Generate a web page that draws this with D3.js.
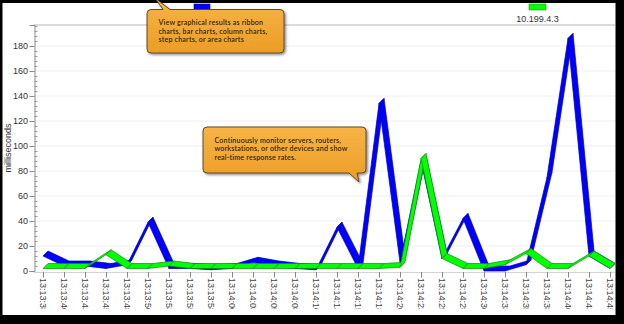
<!DOCTYPE html>
<html>
<head>
<meta charset="utf-8">
<script src="https://cdn.jsdelivr.net/npm/d3@7/dist/d3.min.js"></script>
<style>
  html, body { margin: 0; padding: 0; background: #000; }
  svg { display: block; }
  text { font-family: "Liberation Sans", Arial, sans-serif; }
</style>
</head>
<body>
<svg id="chart" width="624" height="324"></svg>
<script>
// Sample times (x categories)
const times = [
  "13:13:38", "13:13:40", "13:13:43", "13:13:45", "13:13:48", "13:13:50", "13:13:53",
  "13:13:55", "13:13:58", "13:14:00", "13:14:03", "13:14:05", "13:14:08", "13:14:10",
  "13:14:13", "13:14:15", "13:14:18", "13:14:20", "13:14:23", "13:14:25", "13:14:28",
  "13:14:30", "13:14:33", "13:14:35", "13:14:38", "13:14:40", "13:14:43", "13:14:45"
];

// Response times in milliseconds
const hostA = [12, 4, 4, 2, 5, 39, 2, 2, 1, 2, 7, 4, 2, 1, 35, 2, 134, 7, 88, 10, 42, 0, 0, 5, 75, 186, 12, 2];
const hostB = [2, 2, 2, 13, 2, 2, 4, 2, 2, 2, 2, 2, 2, 2, 2, 2, 2, 3, 90, 10, 2, 2, 5, 14, 2, 2, 12, 2];

const hostBName = "10.199.4.3";

const yMajorTicks = [0, 20, 40, 60, 80, 100, 120, 140, 160, 180];

const noteTop = ["View graphical results as ribbon", "charts, bar charts, column charts,", "step charts, or area charts"];
const noteMid = ["Continuously monitor servers, routers,", "workstations, or other devices and show", "real-time response rates."];

const svg = d3.select("#chart");

// Frame
svg.append("rect").attr("x", 0).attr("y", 0).attr("width", 624).attr("height", 324).attr("fill", "#000");
svg.append("rect").attr("x", 2.5).attr("y", 3).attr("width", 613).attr("height", 312).attr("fill", "#fff");

const x = d3.scalePoint().domain(times).range([43, 610]);
const y = d3.scaleLinear().domain([0, 196.8]).range([271, 25]);

const defs = svg.append("defs");
defs.append("clipPath").attr("id", "labelClip")
  .append("rect").attr("x", 0).attr("y", 272).attr("width", 624).attr("height", 37);
const grad = defs.append("linearGradient").attr("id", "noteFill").attr("x1", 0).attr("y1", 0).attr("x2", 0).attr("y2", 1);
grad.append("stop").attr("offset", "0%").attr("stop-color", "#f7b446");
grad.append("stop").attr("offset", "100%").attr("stop-color", "#ec9d25");
const shadow = defs.append("filter").attr("id", "noteShadow").attr("x", "-10%").attr("y", "-10%").attr("width", "130%").attr("height", "140%");
shadow.append("feDropShadow").attr("dx", 1.5).attr("dy", 1.5).attr("stdDeviation", 1.2).attr("flood-color", "#000").attr("flood-opacity", 0.45);

// Gridlines
svg.append("g").selectAll("line").data(yMajorTicks.filter(d => d > 0)).join("line")
  .attr("x1", 35).attr("x2", 615)
  .attr("y1", d => y(d)).attr("y2", d => y(d))
  .attr("stroke", "#efefef").attr("stroke-width", 1);

// Plot top border
svg.append("line").attr("x1", 33).attr("x2", 615).attr("y1", 25).attr("y2", 25)
  .attr("stroke", "#b8b8b8").attr("stroke-width", 1.2);

// Y axis
const yAxis = svg.append("g").attr("transform", "translate(34.5,0)")
  .call(d3.axisLeft(y).tickValues(yMajorTicks).tickSize(5).tickPadding(1.5));
yAxis.select(".domain").attr("stroke", "#8a8a8a");
yAxis.selectAll(".tick line").attr("stroke", "#8a8a8a");
yAxis.selectAll(".tick text").attr("fill", "#333").style("font-size", "9px");

const minor = d3.range(0, 197, 4).filter(v => v % 20 !== 0);
svg.append("g").selectAll("line").data(minor).join("line")
  .attr("x1", 34.5).attr("x2", 37.5)
  .attr("y1", d => Math.round(y(d)) + 0.5).attr("y2", d => Math.round(y(d)) + 0.5)
  .attr("stroke", "#9a9a9a").attr("stroke-width", 1);

svg.append("text")
  .attr("transform", "translate(11,148) rotate(-90)")
  .attr("text-anchor", "middle")
  .attr("fill", "#333").style("font-size", "9px")
  .text("milliseconds");

// X axis
const xAxis = svg.append("g").attr("transform", "translate(0,271.5)")
  .call(d3.axisBottom(x).tickSize(6).tickSizeOuter(0));
xAxis.select(".domain").attr("stroke", "#a8a8a8").attr("stroke-width", 2).attr("d", "M34,0H615");
xAxis.selectAll(".tick line").attr("stroke", "#888");
xAxis.selectAll(".tick text")
  .attr("y", 0).attr("dy", "0.35em")
  .attr("transform", "translate(0,6.5) rotate(90)")
  .attr("text-anchor", "start")
  .attr("fill", "#444").style("font-size", "9px");
// Clip the rotated time labels at the bottom edge of the label band
const labelLayer = svg.append("g").attr("clip-path", "url(#labelClip)");
labelLayer.node().appendChild(xAxis.node());

// Ribbon series: each segment is a quad between the front line and a back line offset up-right
const depthX = 5, depthY = 5;
function drawRibbon(values, fill, edge) {
  const pts = values.map((v, i) => [x(times[i]), y(v)]);
  const segs = d3.pairs(pts);
  svg.append("g").selectAll("path").data(segs).join("path")
    .attr("d", ([a, b]) => {
      const p = d3.path();
      p.moveTo(a[0], a[1]);
      p.lineTo(b[0], b[1]);
      p.lineTo(b[0] + depthX, b[1] - depthY);
      p.lineTo(a[0] + depthX, a[1] - depthY);
      p.closePath();
      return p.toString();
    })
    .attr("fill", fill)
    .attr("stroke", edge)
    .attr("stroke-width", 0.7)
    .attr("stroke-linejoin", "round");
}
drawRibbon(hostA, "#0000ff", "#0000a8");
drawRibbon(hostB, "#00ff00", "#118a11");

// Legend
svg.append("rect").attr("x", 194).attr("y", 4).attr("width", 16).attr("height", 6)
  .attr("fill", "#0000ff").attr("stroke", "#0000a0").attr("stroke-width", 0.6);
svg.append("rect").attr("x", 529).attr("y", 4).attr("width", 17).attr("height", 6)
  .attr("fill", "#00ff00").attr("stroke", "#2a8a2a").attr("stroke-width", 0.6);
svg.append("text").attr("x", 537.5).attr("y", 21.5).attr("text-anchor", "middle")
  .attr("fill", "#333").style("font-size", "9px").text(hostBName);

// Callout notes (one multi-line text block each)
function callout(bx, by, bw, bh, tail, lines) {
  const g = svg.append("g").attr("filter", "url(#noteShadow)");
  const r = 4;
  const p = d3.path();
  p.moveTo(bx + r, by);
  if (tail.side === "top") {
    p.lineTo(tail.b0, by);
    p.lineTo(tail.tx, tail.ty);
    p.lineTo(tail.b1, by);
  }
  p.lineTo(bx + bw - r, by);
  p.arcTo(bx + bw, by, bx + bw, by + r, r);
  p.lineTo(bx + bw, by + bh - r);
  p.arcTo(bx + bw, by + bh, bx + bw - r, by + bh, r);
  if (tail.side === "bottom") {
    p.lineTo(tail.b1, by + bh);
    p.lineTo(tail.tx, tail.ty);
    p.lineTo(tail.b0, by + bh);
  }
  p.lineTo(bx + r, by + bh);
  p.arcTo(bx, by + bh, bx, by + bh - r, r);
  p.lineTo(bx, by + r);
  p.arcTo(bx, by, bx + r, by, r);
  p.closePath();
  g.append("path").attr("d", p.toString())
    .attr("fill", "url(#noteFill)").attr("stroke", "#5b4a2e").attr("stroke-width", 1);
  const t = svg.append("text")
    .attr("x", bx + 11.5).attr("y", by + 15.5)
    .attr("fill", "#35260c")
    .style("font-family", "Lato, 'Open Sans', sans-serif")
    .style("font-size", "7.1px")
    .style("letter-spacing", "0.18px")
    .style("font-weight", "600");
  t.selectAll("tspan").data(lines).join("tspan")
    .attr("x", bx + 11.5)
    .attr("dy", (d, i) => (i === 0 ? 0 : 8.7))
    .text(d => d);
}
callout(147, 9.5, 137, 43.5, { side: "top", b0: 163, b1: 170, tx: 155, ty: -2 }, noteTop);
callout(203, 127, 163, 46, { side: "bottom", b0: 349, b1: 357, tx: 359, ty: 182 }, noteMid);
</script>
</body>
</html>
